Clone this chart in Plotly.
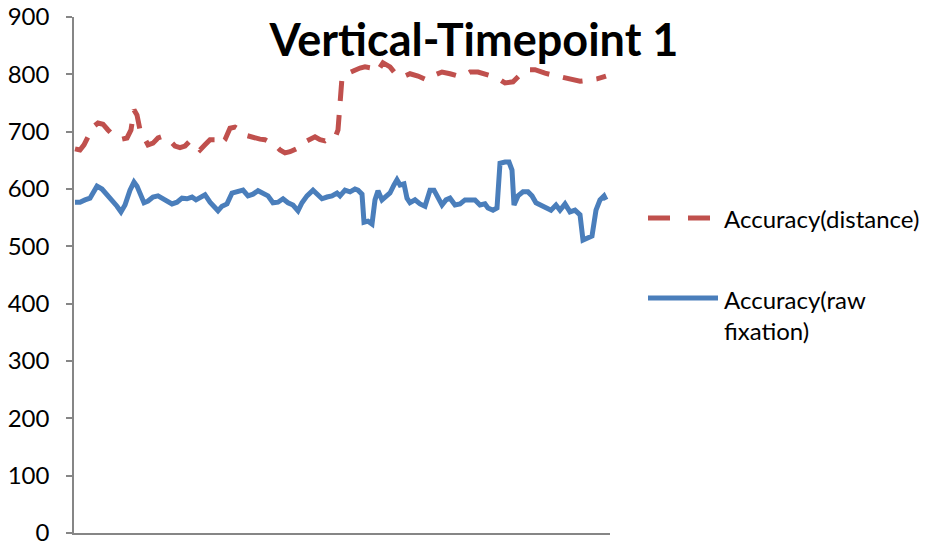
import plotly.graph_objects as go

# ---- data ----
t_raw = [1, 6, 11, 16, 19, 23, 28, 33, 38, 43, 47, 51, 56, 60, 63, 66, 70, 74, 79, 84, 89, 94, 98, 103, 108,
         113, 118, 122, 126, 131, 136, 141, 144, 148, 153, 158, 163, 169, 174, 179, 184, 189, 194, 199, 204,
         209, 214, 219, 224, 228, 233, 239, 243, 248, 253, 258, 263, 266, 271, 276, 281, 284, 288, 290, 294,
         298, 301, 304, 308, 312, 316, 320, 323, 326, 330, 333, 336, 341, 346, 351, 356, 360, 364, 368, 372,
         376, 381, 386, 391, 396, 401, 406, 411, 414, 419, 423, 426, 431, 435, 438, 440, 444, 449, 454, 458,
         462, 467, 472, 477, 482, 486, 491, 496, 501, 506, 509, 513, 518, 522, 526, 530, 532]
raw_fixation = [577, 577, 581, 584, 593, 605, 600, 591, 581, 570, 560, 572, 598, 612, 605, 590, 576, 579, 586,
                588, 583, 577, 574, 577, 584, 583, 586, 581, 584, 590, 577, 569, 562, 570, 574, 593, 595, 598,
                588, 591, 597, 593, 588, 576, 577, 583, 576, 572, 562, 576, 588, 598, 590, 583, 586, 588, 593,
                588, 598, 595, 600, 598, 591, 542, 544, 539, 581, 597, 581, 588, 593, 607, 616, 607, 609, 584,
                576, 581, 574, 570, 598, 598, 586, 572, 581, 584, 572, 574, 581, 581, 581, 572, 574, 567, 563,
                567, 645, 647, 647, 633, 572, 588, 595, 595, 588, 576, 572, 569, 563, 572, 563, 574, 560, 563,
                555, 511, 515, 518, 563, 581, 588, 581]

t_dist = [1, 6, 10, 14, 19, 24, 29, 34, 39, 44, 48, 53, 57, 60, 63, 66, 70, 74, 79, 84, 89, 93, 96, 101, 106,
          111, 116, 121, 126, 131, 136, 141, 146, 151, 156, 161, 166, 171, 176, 181, 186, 191, 196, 201, 206,
          211, 216, 221, 226, 231, 236, 241, 246, 251, 256, 261, 264, 266, 268, 274, 281, 286, 291, 298, 303,
          309, 316, 321, 328, 336, 344, 353, 361, 368, 376, 384, 391, 396, 404, 411, 418, 423, 431, 439, 446,
          453, 461, 466, 471, 478, 484, 491, 498, 506, 516, 523, 532]
distance = [670, 668, 677, 691, 708, 715, 713, 703, 694, 689, 687, 689, 703, 738, 729, 703, 691, 677, 680, 689,
            692, 689, 684, 675, 672, 675, 684, 675, 668, 677, 686, 686, 677, 686, 706, 708, 703, 694, 691, 689,
            687, 686, 682, 677, 668, 663, 665, 668, 673, 682, 686, 691, 686, 684, 689, 689, 703, 743, 794, 802,
            808, 811, 813, 811, 804, 820, 813, 802, 795, 801, 797, 790, 799, 804, 801, 797, 799, 804, 804, 801,
            797, 794, 785, 787, 799, 808, 808, 806, 802, 799, 797, 794, 792, 788, 790, 792, 797]

y_ticks = [0, 100, 200, 300, 400, 500, 600, 700, 800, 900]
series_names = ["Accuracy(distance)", "Accuracy(raw<br>fixation)"]
title_text = "Vertical-Timepoint 1"

RED = "#c0504d"
BLUE = "#4a7ebb"
AXIS = "#868686"
FONT = "Lato, 'Liberation Sans', sans-serif"

fig = go.Figure()
fig.add_trace(go.Scatter(x=t_dist, y=distance, mode="lines", name=series_names[0],
                         line=dict(color=RED, width=5, dash="20px,14px"), showlegend=False))
fig.add_trace(go.Scatter(x=t_raw, y=raw_fixation, mode="lines", name=series_names[1],
                         line=dict(color=BLUE, width=5), showlegend=False))

# manual legend (Excel-style long line samples)
fig.add_shape(type="line", xref="paper", yref="paper", x0=(648 - 74) / 536, x1=(712 - 74) / 536,
              y0=(533 - 218) / 516, y1=(533 - 218) / 516,
              line=dict(color=RED, width=5, dash="22px,18px"))
fig.add_shape(type="line", xref="paper", yref="paper", x0=(648 - 74) / 536, x1=(718 - 74) / 536,
              y0=(533 - 298) / 516, y1=(533 - 298) / 516,
              line=dict(color=BLUE, width=5))
fig.add_annotation(xref="paper", yref="paper", x=(722 - 74) / 536, y=(533 - 218) / 516,
                   text=series_names[0], showarrow=False, xanchor="left", yanchor="middle", align="left",
                   font=dict(family=FONT, size=24, color="#000"))
fig.add_annotation(xref="paper", yref="paper", x=(722 - 74) / 536, y=(533 - 298 + 15) / 516,
                   text=series_names[1], showarrow=False, xanchor="left", yanchor="top", align="left",
                   font=dict(family=FONT, size=24, color="#000"))

fig.update_layout(
    width=933, height=548,
    margin=dict(l=74, r=323, t=17, b=15, autoexpand=False),
    paper_bgcolor="white", plot_bgcolor="white",
    title=dict(text="<b>" + title_text + "</b>", xref="container", yref="container",
               x=474 / 933, y=1 - 40 / 548, xanchor="center", yanchor="middle",
               font=dict(family=FONT, size=45, color="#000")),
    font=dict(family=FONT, size=24, color="#000"),
    showlegend=False,
)
fig.update_xaxes(range=[0, 536], showticklabels=False, ticks="", showgrid=False, zeroline=False,
                 showline=True, linecolor=AXIS, linewidth=1.5, automargin=False)
fig.update_yaxes(range=[0, 900], tickvals=y_ticks, ticktext=[str(v) for v in y_ticks],
                 showgrid=False, zeroline=False, showline=True, linecolor=AXIS, linewidth=1.5,
                 ticks="outside", ticklen=6, tickcolor=AXIS, tickwidth=1.5, automargin=False,
                 ticklabelstandoff=12, tickfont=dict(family=FONT, size=24, color="#000"))

fig.write_html("out.html", config={"displayModeBar": False},
               post_script="document.body.style.margin='0';document.body.style.overflow='hidden';")
